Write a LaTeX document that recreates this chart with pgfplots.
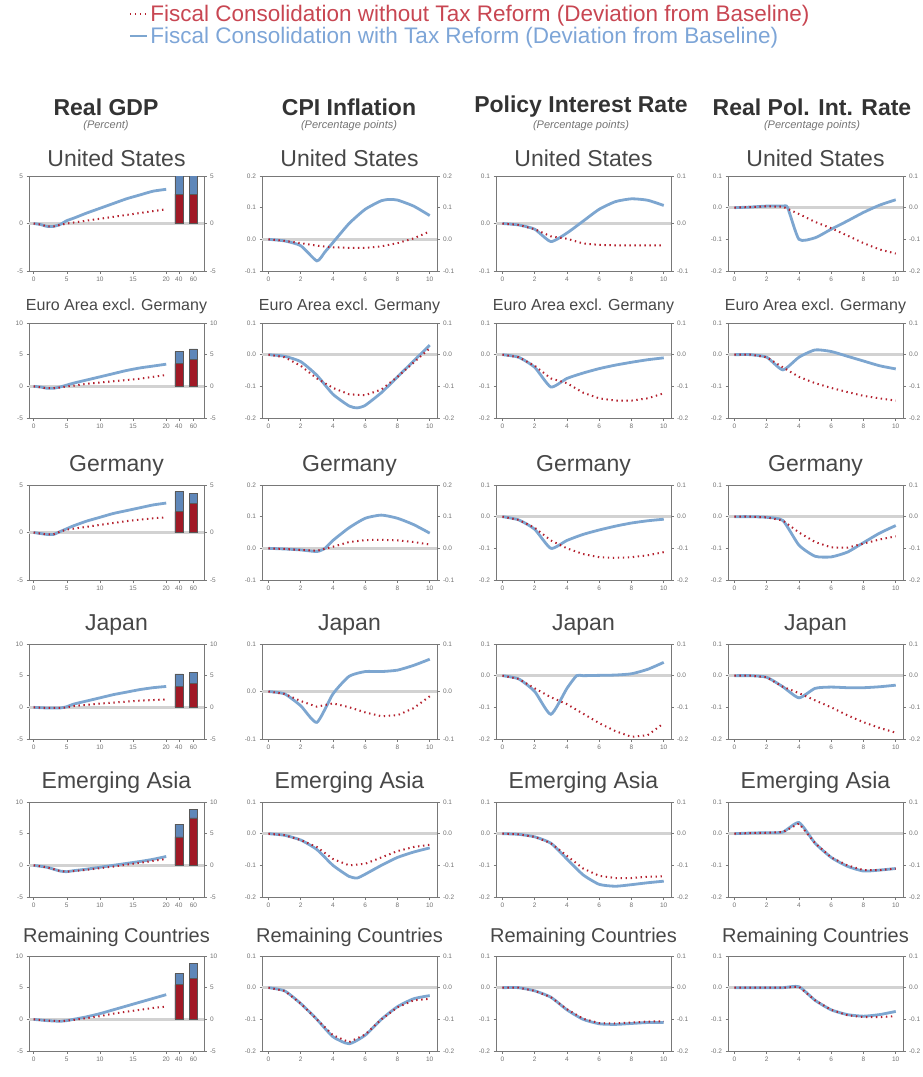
\documentclass[border=0pt]{standalone}
\usepackage{fontspec}
\setmainfont{Liberation Sans}
\usepackage{pgfplots}
\pgfplotsset{compat=1.18}
\definecolor{bl}{RGB}{125,166,208}
\definecolor{rd}{RGB}{180,32,45}
\definecolor{bbar}{RGB}{95,135,185}
\definecolor{rbar}{RGB}{160,25,38}
\definecolor{frm}{RGB}{120,120,120}
\definecolor{legr}{RGB}{200,70,82}
\definecolor{legb}{RGB}{125,165,215}
\pgfplotsset{
  base/.style={scale only axis, width=175pt, height=95pt, anchor=north west,
    x axis line style={gray!40, line width=2pt}, y axis line style={frm, line width=0.9pt},
    tick style={frm, line width=0.5pt},
    major tick length=2.5pt, tick align=outside,
    ticklabel style={font=\fontsize{6.5}{6.5}\selectfont, text=black!55},
    /pgf/number format/assume math mode=true, clip=true,
    title style={font=\fontsize{23}{23}\selectfont, text=black!72, anchor=south, at={(0.5,1)}, yshift=2pt, inner sep=1pt}},
  hfmt/.style={yticklabel style={/pgf/number format/.cd, fixed, fixed zerofill, precision=1}},
  hp/.style={base, hfmt, xmin=-0.4, xmax=10.45, xtick={0,2,...,10}, xtick pos=bottom, ytick pos=left},
  gpan/.style={base, xmin=-0.7, xmax=25.7, xtick={0,5,10,15,20,21.9,24.1}, xticklabels={0,5,10,15,20,40,60}, xtick pos=bottom, ytick pos=left},
  rp/.style={base, xmin=0, xmax=1, axis x line=none, axis y line*=right},
  zl/.style={gray!35, line width=3pt, forget plot},
  bline/.style={bl, line width=2.8pt, smooth, tension=0.35},
  rline/.style={rd, line width=2pt, dash pattern=on 1.4pt off 3.6pt},
  bbarst/.style={ybar, bar width=8pt, bar shift=0pt, fill=bbar, draw=black!65, line width=0.5pt, forget plot},
  rbarst/.style={ybar, bar width=8pt, bar shift=0pt, fill=rbar, draw=black!65, line width=0.5pt, forget plot},
}
% horizontal panel: left, top, ymin, ymax, yticks, blue, red, title
\newcommand{\hp}[8]{%
\begin{axis}[hp, at={(#1pt,-#2pt)}, ymin=#3, ymax=#4, ytick={#5}, title={#8}]
\addplot[zl] coordinates {(-1,0)(11,0)};
\addplot[bline] coordinates {#6};
\addplot[rline] coordinates {#7};
\end{axis}
\begin{axis}[rp, hfmt, at={(#1pt,-#2pt)}, ymin=#3, ymax=#4, ytick={#5}]
\end{axis}}
% GDP panel: top, ymin, ymax, yticks, blue, red, barblue, barred, title
\newcommand{\gp}[9]{%
\begin{axis}[gpan, at={(29pt,-#1pt)}, ymin=#2, ymax=#3, ytick={#4}, title={#9}]
\addplot[zl] coordinates {(-1,0)(30,0)};
\addplot[bline] coordinates {#5};
\addplot[rline] coordinates {#6};
\addplot[bbarst] coordinates {#7};
\addplot[rbarst] coordinates {#8};
\end{axis}
\begin{axis}[rp, at={(29pt,-#1pt)}, ymin=#2, ymax=#3, ytick={#4}]
\end{axis}}
\begin{document}
\begin{tikzpicture}
\useasboundingbox (0,0) rectangle (923pt,-1077pt);
% column headers
\node[font=\bfseries\fontsize{23}{23}\selectfont, text=black!80] at (106pt,-107pt) {Real GDP};
\node[font=\bfseries\fontsize{23}{23}\selectfont, text=black!80] at (349pt,-107pt) {CPI Inflation};
\node[font=\bfseries\fontsize{23}{23}\selectfont, text=black!80] at (581pt,-107pt) {Policy Interest Rate};
\node[font=\bfseries\fontsize{23}{23}\selectfont, text=black!80] at (812pt,-107pt) {Real Pol. Int. Rate};
\node[font=\itshape\fontsize{11}{11}\selectfont, text=black!55] at (106pt,-126pt) {(Percent)};
\node[font=\itshape\fontsize{11}{11}\selectfont, text=black!55] at (349pt,-126pt) {(Percentage points)};
\node[font=\itshape\fontsize{11}{11}\selectfont, text=black!55] at (581pt,-126pt) {(Percentage points)};
\node[font=\itshape\fontsize{11}{11}\selectfont, text=black!55] at (812pt,-126pt) {(Percentage points)};

% ===== Row 1: United States =====
\begin{axis}[gpan, at={(29pt,-176pt)}, ymin=-5, ymax=5, ytick={-5,0,5}, title={United States},
  reverse legend,
  legend style={at={(2.52,2.82)}, anchor=north, draw=none, fill=none, font=\fontsize{22.5}{22.5}\selectfont, row sep=0pt, inner sep=0pt},
  legend cell align=left]
\addplot[zl] coordinates {(-1,0)(30,0)};
\addplot[bline] coordinates {(0,0)(1,-0.1)(2,-0.3)(3,-0.3)(4,-0.1)(5,0.3)(6,0.55)(8,1.1)(10,1.6)(12,2.1)(14,2.6)(16,3.0)(18,3.4)(20,3.6)};
\addlegendentry{\textcolor{legb}{Fiscal Consolidation with Tax Reform (Deviation from Baseline)}}
\addplot[rline] coordinates {(0,0)(1,-0.1)(2,-0.3)(3,-0.3)(4,-0.15)(5,0)(6,0.1)(8,0.3)(10,0.5)(12,0.7)(14,0.9)(16,1.1)(18,1.3)(20,1.5)};
\addlegendentry{\textcolor{legr}{Fiscal Consolidation without Tax Reform (Deviation from Baseline)}}
\addplot[bbarst] coordinates {(21.9,6)(24.1,6)};
\addplot[rbarst] coordinates {(21.9,3.1)(24.1,3.1)};
\end{axis}
\begin{axis}[rp, at={(29pt,-176pt)}, ymin=-5, ymax=5, ytick={-5,0,5}]
\end{axis}
\hp{262}{176}{-0.1}{0.2}{-0.1,0,0.1,0.2}
 {(0,0)(1,-0.005)(2,-0.02)(3,-0.068)(3.5,-0.04)(4,-0.01)(5,0.05)(6,0.095)(7,0.122)(7.5,0.126)(8,0.124)(9,0.105)(10,0.075)}
 {(0,0)(1,-0.005)(2,-0.012)(3,-0.02)(4,-0.025)(5,-0.027)(6,-0.027)(7,-0.022)(8,-0.012)(9,0.003)(10,0.025)}
 {United States}
\hp{496}{176}{-0.1}{0.1}{-0.1,0,0.1}
 {(0,0)(1,-0.003)(2,-0.012)(3,-0.038)(4,-0.02)(5,0.005)(6,0.03)(7,0.046)(8,0.052)(9,0.049)(10,0.038)}
 {(0,0)(1,-0.003)(2,-0.012)(3,-0.027)(4,-0.032)(5,-0.042)(6,-0.045)(7,-0.046)(8,-0.046)(9,-0.046)(10,-0.046)}
 {United States}
\hp{728}{176}{-0.2}{0.1}{-0.2,-0.1,0,0.1}
 {(0,0)(1,0.002)(2,0.005)(3,0.005)(3.3,0)(4,-0.1)(5,-0.095)(6,-0.068)(7,-0.042)(8,-0.015)(9,0.008)(10,0.025)}
 {(0,0)(1,0.002)(2,0.004)(3,0.003)(4,-0.02)(5,-0.045)(6,-0.065)(7,-0.088)(8,-0.112)(9,-0.132)(10,-0.145)}
 {United States}

% ===== Row 2: Euro Area excl. Germany =====
\gp{323}{-5}{10}{-5,0,5,10}
 {(0,0)(1,-0.1)(2,-0.3)(3,-0.3)(4,-0.1)(5,0.2)(6,0.5)(8,1.0)(10,1.5)(12,2.0)(14,2.5)(16,2.9)(18,3.2)(20,3.5)}
 {(0,0)(2,-0.3)(3,-0.3)(4,-0.2)(5,0)(6,0.1)(8,0.4)(10,0.6)(12,0.8)(14,1.0)(16,1.2)(18,1.5)(20,1.8)}
 {(21.9,5.5)(24.1,5.9)}
 {(21.9,3.6)(24.1,4.3)}
 {\fontsize{16}{16}\selectfont Euro Area excl. Germany}
\hp{262}{323}{-0.2}{0.1}{-0.2,-0.1,0,0.1}
 {(0,0)(1,-0.005)(2,-0.022)(3,-0.065)(4,-0.125)(5,-0.162)(5.5,-0.168)(6,-0.16)(7,-0.12)(8,-0.07)(9,-0.02)(10,0.03)}
 {(0,0)(1,-0.008)(2,-0.035)(3,-0.075)(4,-0.105)(5,-0.125)(6,-0.128)(7,-0.11)(8,-0.07)(9,-0.025)(10,0.02)}
 {\fontsize{16}{16}\selectfont Euro Area excl. Germany}
\hp{496}{323}{-0.2}{0.1}{-0.2,-0.1,0,0.1}
 {(0,0)(1,-0.008)(2,-0.04)(3,-0.102)(4,-0.075)(5,-0.058)(6,-0.044)(7,-0.033)(8,-0.024)(9,-0.016)(10,-0.01)}
 {(0,0)(1,-0.008)(2,-0.035)(3,-0.075)(4,-0.09)(5,-0.12)(6,-0.138)(7,-0.145)(8,-0.145)(9,-0.138)(10,-0.122)}
 {\fontsize{16}{16}\selectfont Euro Area excl. Germany}
\hp{728}{323}{-0.2}{0.1}{-0.2,-0.1,0,0.1}
 {(0,0)(1,0)(2,-0.008)(3,-0.048)(4,-0.008)(5,0.015)(6,0.01)(7,-0.005)(8,-0.02)(9,-0.035)(10,-0.045)}
 {(0,0)(1,0)(2,-0.008)(3,-0.04)(4,-0.07)(5,-0.09)(6,-0.105)(7,-0.118)(8,-0.13)(9,-0.138)(10,-0.145)}
 {\fontsize{16}{16}\selectfont Euro Area excl. Germany}

% ===== Row 3: Germany =====
\gp{485}{-5}{5}{-5,0,5}
 {(0,0)(2,-0.2)(3,-0.2)(4,0.1)(5,0.4)(6,0.7)(8,1.2)(10,1.6)(12,2.0)(14,2.3)(16,2.6)(18,2.9)(20,3.1)}
 {(0,0)(2,-0.2)(3,-0.2)(4,0.1)(5,0.3)(6,0.4)(8,0.6)(10,0.8)(12,1.0)(14,1.2)(16,1.35)(18,1.5)(20,1.6)}
 {(21.9,4.3)(24.1,4.1)}
 {(21.9,2.2)(24.1,3.1)}
 {Germany}
\hp{262}{485}{-0.1}{0.2}{-0.1,0,0.1,0.2}
 {(0,0)(1,-0.002)(2,-0.005)(3,-0.01)(3.5,0)(4,0.025)(5,0.065)(6,0.095)(7,0.105)(8,0.095)(9,0.075)(10,0.048)}
 {(0,0)(1,-0.002)(2,-0.005)(3,-0.008)(4,0.005)(5,0.02)(6,0.026)(7,0.027)(8,0.025)(9,0.02)(10,0.012)}
 {Germany}
\hp{496}{485}{-0.2}{0.1}{-0.2,-0.1,0,0.1}
 {(0,0)(1,-0.01)(2,-0.04)(3,-0.1)(4,-0.075)(5,-0.056)(6,-0.042)(7,-0.03)(8,-0.02)(9,-0.013)(10,-0.008)}
 {(0,0)(1,-0.01)(2,-0.035)(3,-0.075)(4,-0.1)(5,-0.118)(6,-0.128)(7,-0.13)(8,-0.128)(9,-0.122)(10,-0.112)}
 {Germany}
\hp{728}{485}{-0.2}{0.1}{-0.2,-0.1,0,0.1}
 {(0,0)(1,0)(2,-0.002)(3,-0.012)(4,-0.09)(5,-0.125)(6,-0.127)(7,-0.112)(8,-0.082)(9,-0.052)(10,-0.028)}
 {(0,0)(1,0)(2,-0.002)(3,-0.012)(4,-0.05)(5,-0.08)(6,-0.097)(7,-0.098)(8,-0.085)(9,-0.072)(10,-0.062)}
 {Germany}

% ===== Row 4: Japan =====
\gp{644}{-5}{10}{-5,0,5,10}
 {(0,0)(2,-0.1)(4,-0.1)(5,0.1)(6,0.5)(8,1.0)(10,1.5)(12,2.0)(14,2.4)(16,2.8)(18,3.1)(20,3.3)}
 {(0,0)(2,-0.1)(4,-0.1)(5,0)(6,0.2)(8,0.4)(10,0.6)(12,0.75)(14,0.9)(16,1.05)(18,1.15)(20,1.25)}
 {(21.9,5.3)(24.1,5.5)}
 {(21.9,3.3)(24.1,3.8)}
 {Japan}
\hp{262}{644}{-0.1}{0.1}{-0.1,0,0.1}
 {(0,0)(1,-0.005)(2,-0.03)(3,-0.065)(4,-0.005)(5,0.032)(6,0.042)(7,0.042)(8,0.045)(9,0.055)(10,0.068)}
 {(0,0)(1,-0.005)(2,-0.02)(3,-0.032)(4,-0.025)(5,-0.033)(6,-0.044)(7,-0.052)(8,-0.05)(9,-0.035)(10,-0.01)}
 {Japan}
\hp{496}{644}{-0.2}{0.1}{-0.2,-0.1,0,0.1}
 {(0,0)(1,-0.01)(2,-0.05)(3,-0.122)(4,-0.04)(4.6,0)(5,0)(6,0.001)(7,0.002)(8,0.006)(9,0.02)(10,0.042)}
 {(0,0)(1,-0.01)(2,-0.04)(3,-0.068)(4,-0.09)(5,-0.12)(6,-0.15)(7,-0.175)(8,-0.193)(9,-0.188)(10,-0.15)}
 {Japan}
\hp{728}{644}{-0.2}{0.1}{-0.2,-0.1,0,0.1}
 {(0,0)(1,0)(2,-0.005)(3,-0.035)(4,-0.07)(5,-0.04)(6,-0.036)(7,-0.038)(8,-0.038)(9,-0.035)(10,-0.03)}
 {(0,0)(1,0)(2,-0.005)(3,-0.035)(4,-0.055)(5,-0.078)(6,-0.1)(7,-0.125)(8,-0.147)(9,-0.165)(10,-0.18)}
 {Japan}

% ===== Row 5: Emerging Asia =====
\gp{802}{-5}{10}{-5,0,5,10}
 {(0,0)(2,-0.3)(3,-0.6)(4,-0.9)(5,-1.0)(6,-0.85)(8,-0.6)(10,-0.3)(12,0)(14,0.3)(16,0.6)(18,0.95)(20,1.4)}
 {(0,0)(2,-0.3)(3,-0.6)(4,-0.9)(5,-1.0)(6,-0.9)(8,-0.7)(10,-0.45)(12,-0.2)(14,0.1)(16,0.4)(18,0.7)(20,1.0)}
 {(21.9,6.5)(24.1,8.8)}
 {(21.9,4.5)(24.1,7.5)}
 {Emerging Asia}
\hp{262}{802}{-0.2}{0.1}{-0.2,-0.1,0,0.1}
 {(0,0)(1,-0.005)(2,-0.02)(3,-0.05)(4,-0.1)(5,-0.135)(5.5,-0.14)(6,-0.128)(7,-0.1)(8,-0.075)(9,-0.058)(10,-0.045)}
 {(0,0)(1,-0.005)(2,-0.02)(3,-0.042)(4,-0.08)(5,-0.1)(6,-0.095)(7,-0.075)(8,-0.055)(9,-0.042)(10,-0.035)}
 {Emerging Asia}
\hp{496}{802}{-0.2}{0.1}{-0.2,-0.1,0,0.1}
 {(0,0)(1,-0.002)(2,-0.01)(3,-0.03)(4,-0.08)(5,-0.13)(6,-0.16)(7,-0.166)(8,-0.161)(9,-0.155)(10,-0.15)}
 {(0,0)(1,-0.002)(2,-0.01)(3,-0.03)(4,-0.07)(5,-0.11)(6,-0.133)(7,-0.14)(8,-0.14)(9,-0.136)(10,-0.135)}
 {Emerging Asia}
\hp{728}{802}{-0.2}{0.1}{-0.2,-0.1,0,0.1}
 {(0,0)(1,0.002)(2,0.003)(3,0.005)(4,0.035)(5,-0.03)(6,-0.075)(7,-0.103)(8,-0.118)(9,-0.115)(10,-0.11)}
 {(0,0)(1,0.002)(2,0.003)(3,0.005)(4,0.032)(5,-0.03)(6,-0.075)(7,-0.1)(8,-0.115)(9,-0.115)(10,-0.11)}
 {Emerging Asia}

% ===== Row 6: Remaining Countries =====
\gp{956}{-5}{10}{-5,0,5,10}
 {(0,0)(2,-0.2)(4,-0.3)(5,-0.2)(6,0)(8,0.4)(10,0.9)(12,1.5)(14,2.1)(16,2.7)(18,3.3)(20,3.9)}
 {(0,0)(2,-0.2)(4,-0.3)(5,-0.2)(6,-0.1)(8,0.2)(10,0.5)(12,0.9)(14,1.2)(16,1.5)(18,1.8)(20,2.0)}
 {(21.9,7.2)(24.1,8.8)}
 {(21.9,5.5)(24.1,6.5)}
 {\fontsize{20}{20}\selectfont Remaining Countries}
\hp{262}{956}{-0.2}{0.1}{-0.2,-0.1,0,0.1}
 {(0,0)(1,-0.01)(2,-0.05)(3,-0.1)(4,-0.155)(5,-0.177)(6,-0.15)(7,-0.1)(8,-0.06)(9,-0.035)(10,-0.025)}
 {(0,0)(1,-0.01)(2,-0.05)(3,-0.1)(4,-0.15)(5,-0.172)(6,-0.148)(7,-0.1)(8,-0.062)(9,-0.04)(10,-0.035)}
 {\fontsize{20}{20}\selectfont Remaining Countries}
\hp{496}{956}{-0.2}{0.1}{-0.2,-0.1,0,0.1}
 {(0,0)(1,0)(2,-0.01)(3,-0.03)(4,-0.07)(5,-0.1)(6,-0.114)(7,-0.116)(8,-0.113)(9,-0.11)(10,-0.11)}
 {(0,0)(1,0)(2,-0.01)(3,-0.03)(4,-0.068)(5,-0.098)(6,-0.112)(7,-0.113)(8,-0.11)(9,-0.107)(10,-0.106)}
 {\fontsize{20}{20}\selectfont Remaining Countries}
\hp{728}{956}{-0.2}{0.1}{-0.2,-0.1,0,0.1}
 {(0,0)(1,0)(2,0)(3,0)(4,0.003)(5,-0.04)(6,-0.07)(7,-0.085)(8,-0.09)(9,-0.085)(10,-0.075)}
 {(0,0)(1,0)(2,0)(3,0)(4,0.003)(5,-0.04)(6,-0.07)(7,-0.087)(8,-0.093)(9,-0.093)(10,-0.09)}
 {\fontsize{20}{20}\selectfont Remaining Countries}
\end{tikzpicture}
\end{document}
